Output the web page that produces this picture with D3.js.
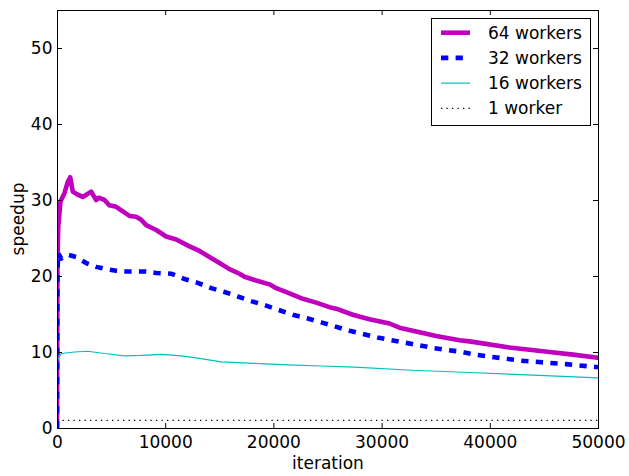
<!DOCTYPE html>
<html><head><meta charset="utf-8">
<script src="https://cdn.jsdelivr.net/npm/d3@7"></script>
<style>
body{margin:0;background:#fff}
svg{display:block}
text{font-family:"DejaVu Sans",sans-serif;fill:#000}
</style>
</head><body>
<svg id="c" width="629" height="476"></svg>
<script>
// ---- data ----
const iter64  = [0,40,120,320,690,1000,1220,1460,1920,2380,3160,3620,3860,4390,4850,5470,6080,6700,7320,7780,8240,9170,10090,11020,12250,13170,14090,15020,15940,16870,17330,18410,19640,20260,21490,22720,23960,25180,25800,27340,28880,30730,31650,33500,35050,37200,38120,39050,41820,45520,47700,50000];
const speed64 = [0,22,26.5,29.8,30.9,32.4,33.0,31.1,30.7,30.4,31.1,30.0,30.3,30.0,29.3,29.1,28.5,27.9,27.8,27.4,26.7,26.05,25.2,24.8,23.9,23.3,22.5,21.7,20.9,20.3,19.9,19.4,18.9,18.4,17.7,17.0,16.5,15.9,15.7,14.9,14.3,13.75,13.2,12.6,12.1,11.55,11.4,11.2,10.6,10.0,9.65,9.25];

const iter32  = [0,40,100,390,1000,1770,2700,3620,4550,5470,6400,7320,8240,9170,10550,11800,13010,14250,15480,16710,17950,19330,20560,21790,23180,24420,27030,29620,32270,34890,37480,38860,42900,47060,50000];
const speed32 = [0,20,23.0,22.3,22.8,22.5,21.7,21.2,20.9,20.7,20.6,20.6,20.6,20.4,20.3,19.6,19.1,18.4,17.9,17.3,16.7,16.1,15.5,14.9,14.4,13.9,12.8,11.9,11.2,10.5,10.0,9.6,8.86,8.4,8.0];

const iter16  = [0,40,390,1620,2850,4390,6240,7780,9700,11480,13010,15180,18250,21330,24420,27500,32800,38120,44000,50000];
const speed16 = [0,8.9,9.8,10.0,10.1,9.8,9.5,9.56,9.7,9.5,9.2,8.7,8.5,8.3,8.16,8.0,7.6,7.3,6.95,6.6];

const iter1   = [0,50000];
const speed1  = [1,1];

const seriesNames = ["64 workers","32 workers","16 workers","1 worker"];
const xTicks = [0,10000,20000,30000,40000,50000];
const yTicks = [0,10,20,30,40,50];
const xLabel = "iteration";
const yLabel = "speedup";

// ---- styles ----
const styles = [
  {color:"#bf00bf", width:4.6, dash:null},
  {color:"#0000ff", width:4.6, dash:"7.3,7.3"},
  {color:"#00bfbf", width:1.2, dash:null},
  {color:"#000000", width:1.3, dash:"1.3,4.2"}
];
const series = [
  {name:seriesNames[0], xs:iter64, ys:speed64},
  {name:seriesNames[1], xs:iter32, ys:speed32},
  {name:seriesNames[2], xs:iter16, ys:speed16},
  {name:seriesNames[3], xs:iter1,  ys:speed1}
];

const FS = 17;
const L = 57, R = 598, T = 10, B = 428;
const svg = d3.select("#c");
const x = d3.scaleLinear().domain([0,50000]).range([L,R]);
const y = d3.scaleLinear().domain([0,55]).range([B,T]);

svg.append("defs").append("clipPath").attr("id","clip")
  .append("rect").attr("x",L+0.5).attr("y",T+0.5).attr("width",R-L).attr("height",B-T);

// lines
const line = d3.line().x(d=>x(d[0])).y(d=>y(d[1]));
const lg = svg.append("g").attr("clip-path","url(#clip)");
series.forEach((s,i)=>{
  const pts = s.xs.map((v,j)=>[v,s.ys[j]]);
  const p = lg.append("path").datum(pts).attr("d",line)
    .attr("fill","none").attr("stroke",styles[i].color)
    .attr("stroke-width",styles[i].width)
    .attr("stroke-linejoin","round")
    .attr("stroke-linecap", styles[i].dash ? "butt" : "round");
  if (styles[i].dash) p.attr("stroke-dasharray",styles[i].dash);
});

// axes
function styleAxis(g){
  g.select(".domain").remove();
  g.selectAll(".tick line").attr("stroke","#000").attr("stroke-width",1);
  g.selectAll(".tick text").attr("font-family","DejaVu Sans").attr("font-size",FS).attr("fill","#000");
}
svg.append("g").attr("transform",`translate(0,${B})`)
  .call(d3.axisBottom(x).tickValues(xTicks).tickFormat(d3.format("d")).tickSizeInner(-5).tickSizeOuter(0).tickPadding(8.3))
  .call(styleAxis);
svg.append("g").attr("transform",`translate(0,${T})`)
  .call(d3.axisTop(x).tickValues(xTicks).tickFormat("").tickSizeInner(-5).tickSizeOuter(0))
  .call(styleAxis);
svg.append("g").attr("transform",`translate(${L},0)`)
  .call(d3.axisLeft(y).tickValues(yTicks).tickFormat(d3.format("d")).tickSizeInner(-5).tickSizeOuter(0).tickPadding(4.5))
  .call(styleAxis);
svg.append("g").attr("transform",`translate(${R},0)`)
  .call(d3.axisRight(y).tickValues(yTicks).tickFormat("").tickSizeInner(-5).tickSizeOuter(0))
  .call(styleAxis);

// frame
svg.append("rect").attr("x",L+0.5).attr("y",T+0.5).attr("width",R-L).attr("height",B-T)
  .attr("fill","none").attr("stroke","#000").attr("stroke-width",1);

// axis labels
svg.append("text").attr("x",(L+R)/2+0.5).attr("y",469).attr("text-anchor","middle")
  .attr("font-size",FS).text(xLabel);
svg.append("text").attr("transform",`translate(24,${(T+B)/2}) rotate(-90)`).attr("text-anchor","middle")
  .attr("font-size",FS).text(yLabel);

// legend
const leg = svg.append("g");
leg.append("rect").attr("x",431.5).attr("y",18.5).attr("width",159).attr("height",107)
  .attr("fill","#fff").attr("stroke","#000").attr("stroke-width",1);
series.forEach((s,i)=>{
  const cy = 32.7 + i*25.2;
  const l = leg.append("line").attr("x1",441).attr("x2",470).attr("y1",cy).attr("y2",cy)
    .attr("stroke",styles[i].color).attr("stroke-width",styles[i].width).attr("stroke-linecap","butt");
  if (styles[i].dash) l.attr("stroke-dasharray",styles[i].dash);
  leg.append("text").attr("x",488).attr("y",cy+6).attr("font-size",FS).text(s.name);
});
</script>
</body></html>
